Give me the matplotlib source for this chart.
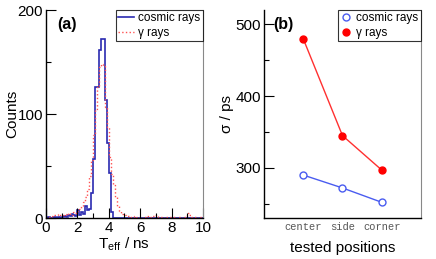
import numpy as np
import matplotlib
matplotlib.use("Agg")
import matplotlib.pyplot as plt
from matplotlib.lines import Line2D

plt.rcParams['font.family'] = ['Liberation Sans', 'DejaVu Sans']
plt.rcParams['mathtext.fontset'] = 'custom'
plt.rcParams['mathtext.rm'] = 'Liberation Sans'

# panel (a): T_eff histograms, 80 bins of 0.125 ns over 0-10 ns
edges = np.linspace(0, 10, 81)
cosmic_counts = [0, 1, 0, 0, 1, 0, 1, 0,
                 1, 2, 1, 3, 2, 4, 3, 2,
                 8, 3, 6, 4, 12, 8, 9, 24,
                 57, 126, 126, 162, 172, 172, 114, 72,
                 43, 6, 0, 0, 0, 0, 0, 0] + [0] * 40
gamma_counts = [0, 1, 1, 2, 3, 3, 4, 3,
                3, 4, 3, 5, 4, 3, 6, 5,
                7, 9, 12, 15, 20, 28, 40, 56,
                80, 105, 126, 145, 148, 146, 107, 88,
                59, 42, 32, 20, 12, 7, 4, 3,
                3, 2, 2, 1, 1, 2, 1, 1,
                1, 0, 1, 2, 1, 1, 2, 3,
                2, 1, 1, 1, 0, 1, 1, 1,
                1, 1, 0, 1, 1, 0, 1, 1,
                5, 3, 1, 1, 1, 0, 1, 1]

# panel (b): timing resolution per position
positions = ['center', 'side', 'corner']
sigma_cosmic = [290, 272, 252]
sigma_gamma = [480, 345, 297]


def style_axes(ax):
    ax.spines['top'].set_visible(False)
    ax.spines['right'].set_color('#888888')
    ax.spines['left'].set_linewidth(1.0)
    ax.spines['bottom'].set_linewidth(1.0)
    ax.tick_params(which='both', direction='in', top=False, right=False,
                   labelsize=11, pad=2)
    ax.tick_params(which='major', length=7, width=0.8)
    ax.tick_params(which='minor', length=3.5, width=0.8)


def boxed_legend(ax, handles, hlen):
    leg = ax.legend(handles, ['cosmic rays', 'γ rays'], loc='upper right',
                    bbox_to_anchor=(1.0, 1.0), fontsize=8.5, frameon=True,
                    fancybox=False, borderpad=0.2, handlelength=hlen,
                    handletextpad=0.4, labelspacing=0.2, borderaxespad=0)
    leg.get_frame().set_edgecolor('black')
    leg.get_frame().set_linewidth(0.8)
    return leg


fig = plt.figure(figsize=(4.36, 2.59), dpi=100)
ax1 = fig.add_axes([0.1055, 0.158, 0.36, 0.803])
ax2 = fig.add_axes([0.6055, 0.158, 0.36, 0.803])

# (a)
ax1.stairs(cosmic_counts, edges, color='#2a2ab0', lw=1.2, label='cosmic rays')
ax1.stairs(gamma_counts, edges, color='#ff5050', lw=1.0, ls=':', label='γ rays')
ax1.set_xlim(0, 10)
ax1.set_ylim(0, 200)
ax1.set_xticks([0, 2, 4, 6, 8, 10])
ax1.set_xticks([1, 3, 5, 7, 9], minor=True)
ax1.set_yticks([0, 100, 200])
ax1.set_yticks([50, 150], minor=True)
style_axes(ax1)
ax1.set_xlabel('T$_{\\rm eff}$ / ns', fontsize=11, labelpad=0)
ax1.set_ylabel('Counts', fontsize=11, labelpad=-1)
ax1.text(0.07, 0.93, '(a)', transform=ax1.transAxes, fontsize=11.5,
         fontweight='bold', va='center')
boxed_legend(ax1, [Line2D([], [], color='#2a2ab0', lw=1.2),
                   Line2D([], [], color='#ff5050', lw=1.0, ls=':')], 1.3)

# (b)
x = np.arange(1, len(positions) + 1)
ax2.plot(x, sigma_gamma, color='#ff3030', lw=1.0, marker='o', ms=5,
         mfc='#ff0000', mec='#ff0000', label='γ rays')
ax2.plot(x, sigma_cosmic, color='#4a5cf0', lw=1.0, marker='o', ms=5,
         mfc='white', mec='#4a5cf0', label='cosmic rays')
ax2.set_xlim(0, 4)
ax2.set_ylim(230, 520)
ax2.set_xticks(x)
ax2.set_xticklabels(positions, family='Liberation Mono', fontsize=7.5,
                    color='#555555')
ax2.set_yticks([300, 400, 500])
ax2.set_yticks([250, 350, 450], minor=True)
style_axes(ax2)
ax2.tick_params(axis='x', length=0, pad=3, labelsize=7.5)
ax2.set_xlabel('tested positions', fontsize=11, labelpad=6)
ax2.set_ylabel('σ / ps', fontsize=11, labelpad=1)
ax2.text(0.057, 0.93, '(b)', transform=ax2.transAxes, fontsize=11.5,
         fontweight='bold', va='center')
boxed_legend(ax2, [Line2D([], [], ls='none', marker='o', ms=5,
                          mfc='white', mec='#4a5cf0'),
                   Line2D([], [], ls='none', marker='o', ms=5,
                          mfc='#ff0000', mec='#ff0000')], 1.0)

fig.savefig('out.png', dpi=100)
